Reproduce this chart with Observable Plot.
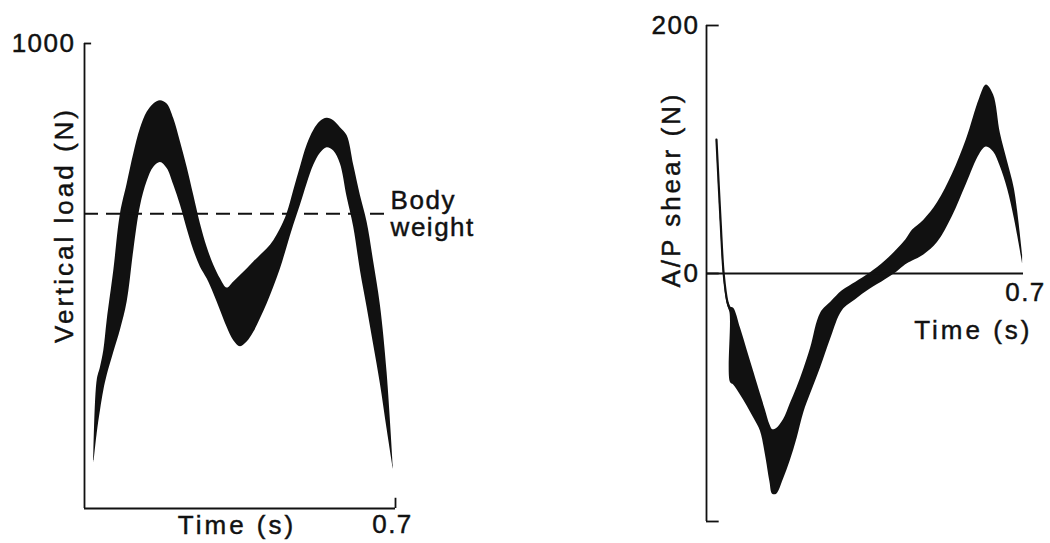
<!DOCTYPE html>
<html><head><meta charset="utf-8">
<script src="https://cdn.jsdelivr.net/npm/d3@7"></script>
<script src="https://cdn.jsdelivr.net/npm/@observablehq/plot@0.6"></script>
<style>
html,body{margin:0;padding:0;background:#fff;}
#wrap{position:relative;width:1050px;height:543px;overflow:hidden;background:#fff;}
#left,#right{position:absolute;top:0;}
#left{left:0;} #right{left:525px;}
</style></head><body><div id="wrap"><div id="left"></div><div id="right"></div></div>
<script>
// ---- Vertical load panel (N) ----
const vTime = [0.021,0.0285,0.036,0.0435,0.051,0.066,0.081,0.096,0.111,0.126,0.141,0.156,0.171,0.186,0.201,0.216,0.231,0.246,0.261,0.276,0.291,0.306,0.321,0.336,0.351,0.366,0.381,0.396,0.411,0.426,0.441,0.456,0.471,0.486,0.501,0.516,0.531,0.546,0.561,0.576,0.591,0.606,0.621,0.636,0.651,0.666,0.681,0.695];
const vHigh = [103,275,304,340,404,512,634,698,763,817,852,870,877,870,838,788,734,673,612,562,523,494,474,487,501,515,530,544,558,576,601,634,684,734,781,813,832,839,834,819,802,738,673,616,530,437,293,93];
const vLow  = [96,161,211,254,286,336,384,444,555,650,703,734,744,731,695,652,601,555,519,494,462,426,390,361,348,358,379,408,440,476,515,562,609,652,698,738,764,776,769,741,670,605,512,433,351,268,171,85];
const bodyWeight = 634;
const vTicks = [1000];
const vTimeTicks = [0.7];

// ---- A/P shear panel (N) ----
const sTime = [0.022,0.031,0.038,0.046,0.052,0.053,0.060,0.075,0.090,0.105,0.119,0.130,0.140,0.146,0.155,0.170,0.185,0.200,0.215,0.230,0.252,0.275,0.300,0.330,0.360,0.395,0.420,0.440,0.455,0.480,0.510,0.543,0.574,0.603,0.618,0.634,0.649,0.665,0.680,0.698];
const sHigh = [110,45,2,-20,-26,-27,-28,-44,-62,-80,-97,-110,-122,-126,-125,-118,-105,-92,-77,-60,-32,-23,-14,-7,0,10,19,27,35,43,57,80,108,141,152,144,113,90,68,15];
const sLow  = [106,41,-3,-25,-32,-88,-90,-98,-107,-117,-127,-146,-168,-178,-178,-166,-151,-133,-112,-97,-76,-52,-30,-21,-13,-5,1,7,10,15,25,46,72,96,102,98,86,68,44,8];
const sTicks = [200, 0, -200];
const sTickLabels = [200, 0];
const sTimeTicks = [0.7];

const ink = "#111";
const font = "'Liberation Sans', Arial, Helvetica, sans-serif";
const titles = ["Time (s)", "Vertical load (N)", "A/P shear (N)"];
const fmt = d => String(d);

const vData = vTime.map((t, i) => ({t, lo: vLow[i], hi: vHigh[i]}));
const sData = sTime.map((t, i) => ({t, lo: sLow[i], hi: sHigh[i]}));
const sSpike = sData.slice(0, 5);

const left = Plot.plot({
  width: 525, height: 543,
  marginTop: 43, marginBottom: 35, marginLeft: 84, marginRight: 130,
  x: {domain: [0, 0.7], axis: null},
  y: {domain: [0, 1000], axis: null},
  marks: [
    Plot.areaY(vData, {x: "t", y1: "lo", y2: "hi", fill: ink, curve: "catmull-rom"}),
    Plot.ruleY([bodyWeight], {x1: 0, x2: 0.68, stroke: ink, strokeWidth: 2, strokeDasharray: "14,8"}),
    Plot.text([bodyWeight], {x: 0.68, y: d => d, text: () => "Body\nweight", textAnchor: "start", lineAnchor: "middle", lineHeight: 1.05, dx: 4, fill: ink, fontSize: 26}),
    Plot.ruleX([0], {y1: 0, y2: 1000, stroke: ink, strokeWidth: 1.8}),
    Plot.ruleY([0], {x1: 0, x2: 0.7, stroke: ink, strokeWidth: 1.8}),
    Plot.ruleY(vTicks, {x1: 0, x2: 0.016, stroke: ink, strokeWidth: 1.8}),
    Plot.ruleX(vTimeTicks, {y1: 0, y2: 22, stroke: ink, strokeWidth: 1.8}),
    Plot.axisY({ticks: vTicks, tickSize: 0, tickPadding: 9, tickFormat: fmt, label: null, fontSize: 26}),
    Plot.axisX({ticks: vTimeTicks, tickSize: 0, tickPadding: 6, tickFormat: fmt, label: null, dx: -3, fontSize: 26}),
    Plot.text(["Time (s)"], {frameAnchor: "bottom", textAnchor: "middle", dx: -3, dy: 25, lineAnchor: "bottom", fontSize: 26}),
    Plot.text(["Vertical load (N)"], {frameAnchor: "left", textAnchor: "middle", rotate: -90, dx: -12, dy: -51, lineAnchor: "bottom", fontSize: 26})
  ]
});

const right = Plot.plot({
  width: 525, height: 543,
  marginTop: 25, marginBottom: 22, marginLeft: 181, marginRight: 27,
  x: {domain: [0, 0.7], axis: null},
  y: {domain: [-200, 200], axis: null},
  marks: [
    Plot.areaY(sData, {x: "t", y1: "lo", y2: "hi", fill: ink, curve: "catmull-rom"}),
    Plot.line(sSpike, {x: "t", y: d => (d.lo + d.hi) / 2, stroke: ink, strokeWidth: 2.2, curve: "catmull-rom"}),
    Plot.ruleY([0], {x1: 0, x2: 0.7, stroke: ink, strokeWidth: 2}),
    Plot.ruleX([0], {y1: -200, y2: 200, stroke: ink, strokeWidth: 1.8}),
    Plot.ruleY(sTicks, {x1: 0, x2: 0.028, stroke: ink, strokeWidth: 1.8}),
    Plot.axisY({ticks: sTickLabels, tickSize: 0, tickPadding: 7, tickFormat: fmt, label: null, fontSize: 26}),
    Plot.text(sTimeTicks, {x: d => d, y: 0, text: fmt, textAnchor: "middle", lineAnchor: "top", dy: 9, dx: 2, fontSize: 26}),
    Plot.text(sTimeTicks, {x: d => d, y: 0, text: () => "Time (s)", textAnchor: "end", lineAnchor: "bottom", dy: 65, dx: 9, fontSize: 26}),
    Plot.text(["A/P shear (N)"], {frameAnchor: "left", textAnchor: "middle", rotate: -90, dx: -27, dy: -84, lineAnchor: "bottom", fontSize: 26})
  ]
});

for (const svg of [left, right]) {
  svg.style.background = "#fff";
  svg.style.overflow = "visible";
  d3.select(svg).selectAll("text").each(function() {
    const s = this.textContent;
    this.style.fontFamily = font;
    this.style.letterSpacing = titles.includes(s) ? "3px" : "1.5px";
    this.setAttribute("fill", ink);
    this.setAttribute("stroke", ink);
    this.setAttribute("stroke-width", "0.45");
  });
}
document.getElementById("left").appendChild(left);
document.getElementById("right").appendChild(right);
</script>
</body></html>
